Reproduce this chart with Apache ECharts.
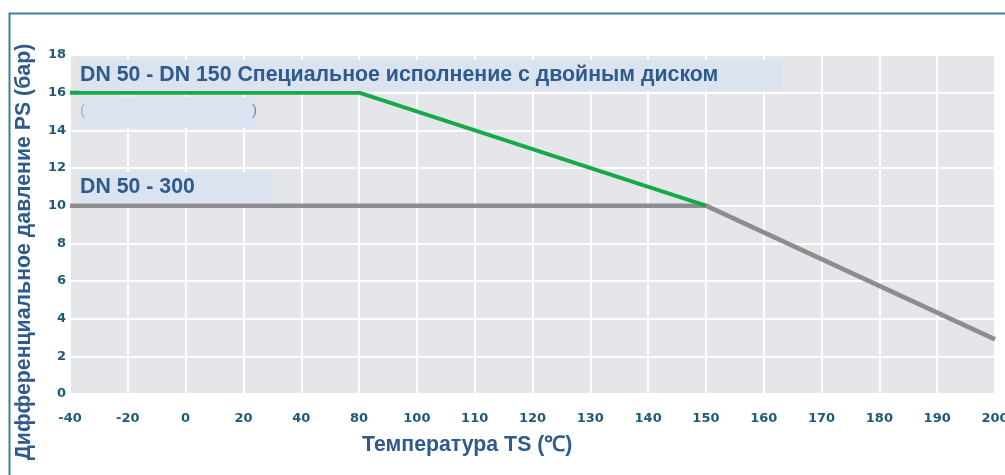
<!DOCTYPE html>
<html>
<head>
<meta charset="utf-8">
<script src="https://cdn.jsdelivr.net/npm/echarts@6/dist/echarts.min.js"></script>
<style>
html,body{margin:0;padding:0;background:#fff;}
#chart{width:1005px;height:475px;}
</style>
</head>
<body>
<div id="chart"></div>
<script>
// Data
var categories = ['-40','-20','0','20','40','80','100','110','120','130','140','150','160','170','180','190','200'];
var specialSeries = [['-40',16],['80',16],['150',10]];
var standardSeries = [['-40',10],['150',10],['200',2.9]];
var yTicks = [0,2,4,6,8,10,12,14,16,18];
var labelSpecial = 'DN 50 - DN 150 Специальное исполнение с двойным диском';
var labelStandard = 'DN 50 - 300';
var xTitle = 'Температура TS (℃)';
var yTitle = 'Дифференциальное давление PS (бар)';

var FONT = '"Liberation Sans", Arial, sans-serif';
var TICKFONT = '"DejaVu Sans", Verdana, sans-serif';
var textBlue = '#2e5a8c';
var tickColor = '#1c5a78';
var boxColor = '#dae3ef';

var chart = echarts.init(document.getElementById('chart'));
chart.setOption({
  animation: false,
  backgroundColor: '#ffffff',
  grid: {
    left: 70, right: 10, top: 55, bottom: 81,
    containLabel: false, outerBoundsMode: 'none',
    show: true, backgroundColor: '#e4e6ea', borderWidth: 0
  },
  xAxis: {
    type: 'category',
    data: categories,
    boundaryGap: false,
    axisLine: {show: false},
    axisTick: {show: false},
    axisLabel: {
      color: tickColor, fontFamily: TICKFONT, fontWeight: 'bold', fontSize: 13,
      margin: 18, interval: 0
    },
    splitLine: {show: true, lineStyle: {color: '#ffffff', width: 2}}
  },
  yAxis: {
    type: 'value',
    min: yTicks[0], max: yTicks[yTicks.length-1], interval: 2,
    axisLine: {show: false},
    axisTick: {show: false},
    axisLabel: {
      color: tickColor, fontFamily: TICKFONT, fontWeight: 'bold', fontSize: 13,
      margin: 4
    },
    splitLine: {show: true, lineStyle: {color: '#ffffff', width: 2}}
  },
  series: [
    {
      type: 'line', data: standardSeries, symbol: 'none',
      lineStyle: {color: '#8d8d8f', width: 4.5}, z: 3
    },
    {
      type: 'line', data: specialSeries, symbol: 'none',
      lineStyle: {color: '#16a94a', width: 4}, z: 4
    }
  ],
  graphic: [
    {type: 'rect', left: 7, top: 11, shape: {x: 0, y: 0, width: 1010, height: 480},
     style: {fill: 'none', stroke: '#3f7f9c', lineWidth: 2}, z: 1, silent: true},
    {type: 'rect', shape: {x: 79, y: 60, width: 702, height: 31}, style: {fill: boxColor}, z: 5},
    {type: 'text', x: 80, y: 75.5, style: {text: labelSpecial, fill: textBlue, font: 'bold 21.3px ' + FONT, textVerticalAlign: 'middle'}, z: 6},
    {type: 'rect', shape: {x: 81, y: 97, width: 175, height: 31}, style: {fill: boxColor}, z: 5},
    {type: 'text', x: 80, y: 111, style: {text: '(', fill: '#9fb2c8', font: '15px ' + FONT, textVerticalAlign: 'middle'}, z: 6},
    {type: 'text', x: 252, y: 111, style: {text: ')', fill: '#6f8fae', font: '15px ' + FONT, textVerticalAlign: 'middle'}, z: 6},
    {type: 'rect', shape: {x: 79, y: 172, width: 194, height: 31}, style: {fill: boxColor}, z: 5},
    {type: 'text', x: 80, y: 187.5, style: {text: labelStandard, fill: textBlue, font: 'bold 21.3px ' + FONT, textVerticalAlign: 'middle'}, z: 6},
    {type: 'text', x: 362, y: 445, style: {text: xTitle, fill: textBlue, font: 'bold 21.3px ' + FONT, textVerticalAlign: 'middle'}, z: 6},
    {type: 'text', x: 24, y: 252, rotation: Math.PI/2,
     style: {text: yTitle, fill: textBlue, font: 'bold 21.3px ' + FONT, textAlign: 'center', textVerticalAlign: 'middle'}, z: 6}
  ]
});
</script>
</body>
</html>
